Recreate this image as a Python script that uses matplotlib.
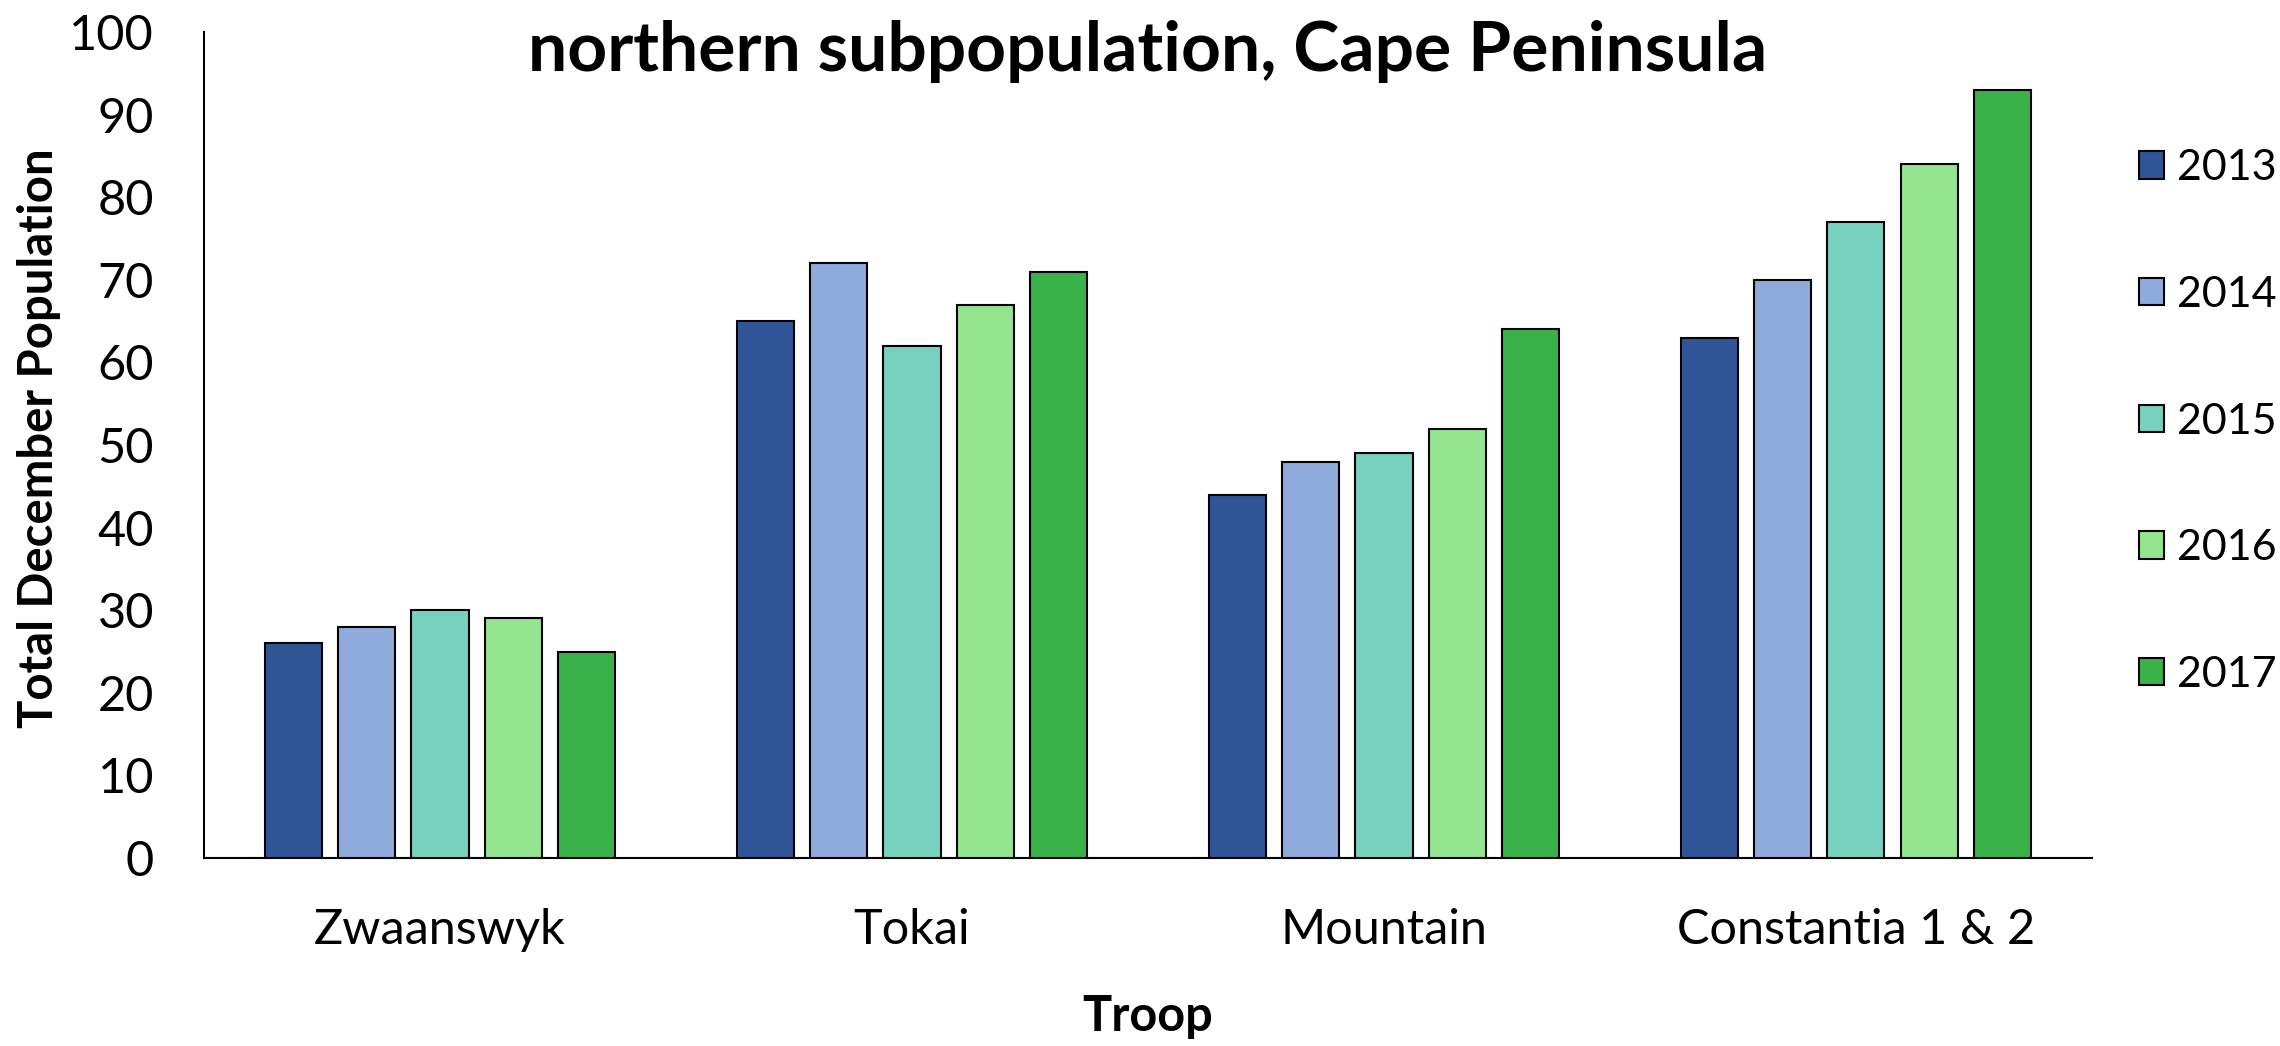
import numpy as np
import matplotlib
matplotlib.use('Agg')
import matplotlib.pyplot as plt
from matplotlib.patches import Patch

plt.rcParams['font.family'] = ['Lato', 'DejaVu Sans']

# Данные
troops = ['Zwaanswyk', 'Tokai', 'Mountain', 'Constantia 1 & 2']
years = ['2013', '2014', '2015', '2016', '2017']
pop_2013 = [26, 65, 44, 63]
pop_2014 = [28, 72, 48, 70]
pop_2015 = [30, 62, 49, 77]
pop_2016 = [29, 67, 52, 84]
pop_2017 = [25, 71, 64, 93]
colors = ['#2F5597', '#8FAADC', '#77D2BD', '#94E48E', '#39B24A']

series = [pop_2013, pop_2014, pop_2015, pop_2016, pop_2017]

fig = plt.figure(figsize=(22.8, 10.46), dpi=100)
ax = fig.add_axes([0.0895, 0.1797, 0.828, 0.7897])

x = np.arange(len(troops))
pitch = 0.155
width = 0.121
for i, (vals, c) in enumerate(zip(series, colors)):
    ax.bar(x + (i - 2) * pitch, vals, width, color=c, edgecolor='black',
           linewidth=1.5, zorder=3)

ax.set_xlim(-0.5, len(troops) - 0.5)
ax.set_ylim(0, 100)
ax.set_yticks(range(0, 101, 10))
ax.set_xticks(x)
ax.set_xticklabels(troops)
ax.tick_params(axis='both', length=0, labelsize=35)
ax.tick_params(axis='y', pad=36)
ax.tick_params(axis='x', pad=36)

for s in ['top', 'right']:
    ax.spines[s].set_visible(False)
for s in ['left', 'bottom']:
    ax.spines[s].set_linewidth(1.5)

# подписи осей и заголовок
ax.set_ylabel('Total December Population', fontsize=34, fontweight='bold',
              ha='center', va='center')
ax.yaxis.set_label_coords(-0.0874, 0.508)
ax.set_xlabel('Troop', fontsize=35, fontweight='bold', labelpad=30)
fig.text(0.5035, 0.951, 'northern subpopulation, Cape Peninsula', ha='center',
         va='center', fontsize=50, fontweight='bold')

handles = [Patch(facecolor=c, edgecolor='black', linewidth=1.5) for c in colors]
fig.legend(handles, years, loc='center left', bbox_to_anchor=(0.938, 0.597),
           frameon=False, fontsize=31, handlelength=0.6, handleheight=0.6,
           handletextpad=0.3, labelspacing=2.06, borderpad=0, borderaxespad=0)

plt.savefig('out.png', dpi=100)
